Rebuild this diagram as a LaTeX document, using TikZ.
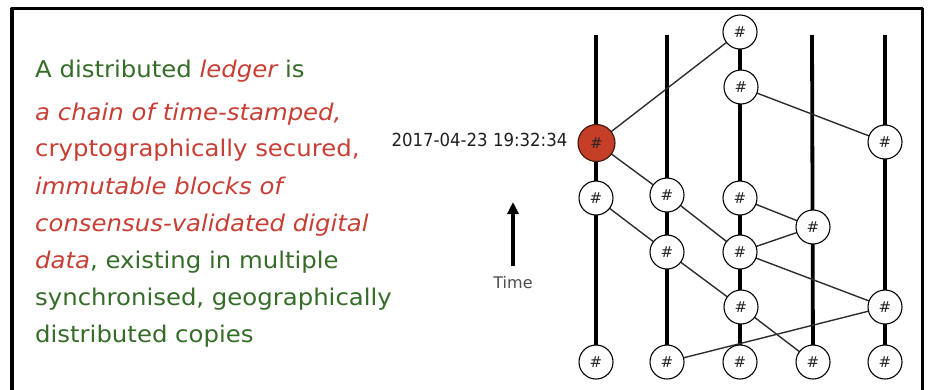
\documentclass[tikz,border=0pt]{standalone}
\usepackage{fontspec}
\usetikzlibrary{arrows.meta,backgrounds}
\newfontfamily\txtfont{DejaVu Sans}[FakeStretch=1.06]
\newfontfamily\datefont{DejaVu Sans}[FakeStretch=0.92]
\newfontfamily\hashfont{DejaVu Sans}
\definecolor{tgreen}{RGB}{52,108,40}
\definecolor{tred}{RGB}{200,62,52}
\definecolor{nodered}{RGB}{196,62,40}
\definecolor{nodeborder}{RGB}{60,20,12}
\definecolor{edgegray}{RGB}{45,45,45}
\begin{document}
\begin{tikzpicture}[x=1pt,y=-1pt,
  blk/.style={circle,draw=black,line width=1.1pt,fill=white,minimum size=34pt,inner sep=0pt,font=\hashfont\fontsize{15}{15}\selectfont,text=black!85},
  redblk/.style={blk,fill=nodered,draw=nodeborder,minimum size=37pt},
  chain/.style={line width=3.8pt,black},
  link/.style={line width=1.4pt,edgegray},
  txt/.style={anchor=base west,inner sep=0pt,font=\txtfont\fontsize{23}{23}\selectfont},
  frameline/.style={line width=3.5pt,black,line cap=round,line join=round}
]
\useasboundingbox (0,0) rectangle (929,389);
% frame
\coordinate (fbl) at (12,392);
\coordinate (ftl) at (12,8.5);
\coordinate (ftr) at (922.5,8.5);
\coordinate (fbr) at (922.5,392);
\draw[frameline] (fbl) -- (ftl) -- (ftr) -- (fbr);

% text
\node[txt,text=tgreen] (l1) at (35,77) {A distributed \textcolor{tred}{\itshape ledger} is};
\node[txt,text=tred] (l2) at (35,120) {\itshape a chain of time-stamped,};
\node[txt,text=tred] (l3) at (35,156) {cryptographically secured,};
\node[txt,text=tred] (l4) at (35,194) {\itshape immutable blocks of};
\node[txt,text=tred] (l5) at (35,231) {\itshape consensus-validated digital};
\node[txt,text=tgreen] (l6) at (35,268) {\textcolor{tred}{\itshape data}, existing in multiple};
\node[txt,text=tgreen] (l7) at (35,305) {synchronised, geographically};
\node[txt,text=tgreen] (l8) at (35,342) {distributed copies};

% date and time arrow
\node[font=\datefont\fontsize{18}{18}\selectfont,text=black!88,inner sep=0pt] (date) at (479.5,140) {2017-04-23 19:32:34};
\coordinate (tarrowlow) at (513,266);
\coordinate (tarrowtop) at (513,202);
\draw[line width=3.5pt,-{Triangle[length=12pt,width=11pt]}] (tarrowlow) -- (tarrowtop);
\node[font=\hashfont\fontsize{16}{16}\selectfont,text=black!70,inner sep=0pt] (time) at (513,283) {Time};

% tops of chains
\coordinate (ta) at (596,35);
\coordinate (tb) at (667,35);
\coordinate (td) at (812,35);
\coordinate (te) at (885,35);

% nodes
\node[redblk] (a1) at (596.5,143) {\#};
\node[blk] (a2) at (596,198) {\#};
\node[blk] (a3) at (596,362) {\#};
\node[blk] (b1) at (667,195) {\#};
\node[blk] (b2) at (667,252) {\#};
\node[blk] (b3) at (667,362) {\#};
\node[blk] (c1) at (740,32) {\#};
\node[blk] (c2) at (741,87) {\#};
\node[blk] (c3) at (740,198) {\#};
\node[blk] (c4) at (740,252) {\#};
\node[blk] (c5) at (741,307) {\#};
\node[blk] (c6) at (740,362) {\#};
\node[blk] (d1) at (813,227) {\#};
\node[blk] (d2) at (813,362) {\#};
\node[blk] (e1) at (885,142) {\#};
\node[blk] (e2) at (885,307) {\#};
\node[blk] (e3) at (885,362) {\#};

% chains and links behind nodes
\begin{scope}[on background layer]
  \draw[chain] (ta) -- (a3.center);
  \draw[chain] (tb) -- (b3.center);
  \draw[chain] (c1.center) -- (c6.center);
  \draw[chain] (td) -- (d2.center);
  \draw[chain] (te) -- (e3.center);
  \draw[link] (a1.center) -- (c1.center);
  \draw[link] (a1.center) -- (b1.center);
  \draw[link] (c2.center) -- (e1.center);
  \draw[link] (a2.center) -- (b2.center);
  \draw[link] (b1.center) -- (c4.center);
  \draw[link] (c3.center) -- (d1.center);
  \draw[link] (c4.center) -- (d1.center);
  \draw[link] (b2.center) -- (c5.center);
  \draw[link] (c4.center) -- (e2.center);
  \draw[link] (c5.center) -- (d2.center);
  \draw[link] (b3.center) -- (e2.center);
\end{scope}
\end{tikzpicture}
\end{document}
